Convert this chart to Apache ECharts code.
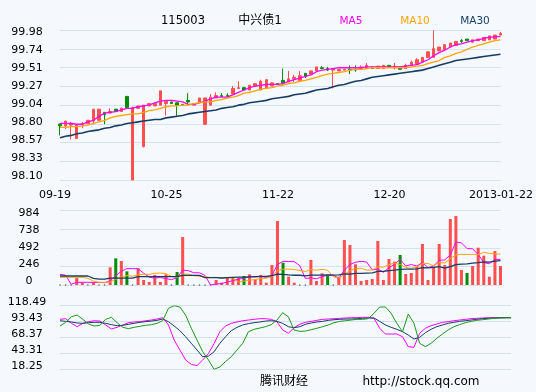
<!DOCTYPE html>
<html><head><meta charset="utf-8">
<script src="https://cdn.jsdelivr.net/npm/echarts/dist/echarts.min.js"></script>
<style>html,body{margin:0;padding:0;background:#F5F8FD}#c{width:536px;height:392px}</style>
</head><body><div id="c"></div>
<script>
// ---------- texts & tick labels ----------
const stockCode = '115003';
const stockName = '中兴债1';
const maNames = ['MA5', 'MA10', 'MA30'];
const footerTexts = ['腾讯财经', 'http://stock.qq.com'];
const dateLabels = ['09-19', '10-25', '11-22', '12-20', '2013-01-22'];
const priceTicks = ['98.10', '98.33', '98.57', '98.80', '99.04', '99.27', '99.51', '99.74', '99.98'];
const volumeTicks = ['0', '246', '492', '738', '984'];
const kdjTicks = ['18.25', '43.31', '68.37', '93.43', '118.49'];

// ---------- price data (daily) ----------
const open = [98.80,98.78,98.79,98.62,98.80,98.81,98.84,98.85,98.95,98.94,
 98.99,98.96,99.15,98.10,99.00,98.52,99.03,99.03,99.04,99.06,
 99.08,99.07,99.05,99.10,99.04,99.08,98.80,99.04,99.13,99.16,
 99.16,99.18,99.25,99.26,99.23,99.28,99.23,99.25,99.28,99.31,
 99.35,99.33,99.37,99.35,99.44,99.43,99.47,99.51,99.50,99.48,
 99.47,99.48,99.49,99.49,99.50,99.50,99.52,99.50,99.50,99.54,
 99.51,99.52,99.50,99.54,99.55,99.58,99.64,99.64,99.72,99.74,
 99.77,99.79,99.85,99.87,99.83,99.85,99.85,99.86,99.87,99.92];
const close = [98.78,98.84,98.81,98.80,98.81,98.85,98.99,98.99,98.92,98.96,
 98.96,99.00,99.01,99.01,99.03,99.04,99.06,99.06,99.22,99.09,
 99.06,99.04,99.04,99.08,99.06,99.13,99.13,99.14,99.16,99.15,
 99.15,99.25,99.26,99.23,99.29,99.31,99.34,99.36,99.32,99.30,
 99.32,99.37,99.39,99.41,99.40,99.47,99.52,99.50,99.48,99.50,
 99.49,99.49,99.48,99.48,99.52,99.54,99.50,99.53,99.54,99.52,
 99.53,99.49,99.54,99.58,99.61,99.64,99.71,99.75,99.77,99.80,
 99.82,99.84,99.84,99.85,99.86,99.87,99.89,99.91,99.92,99.94];
const low = [98.66,98.74,98.61,98.62,98.75,98.81,98.80,98.85,98.80,98.94,
 98.96,98.96,99.01,98.10,99.00,98.51,99.03,99.03,99.04,98.91,
 99.06,98.89,99.04,99.04,99.04,99.08,98.80,99.04,99.13,99.15,
 99.15,99.18,99.24,99.23,99.23,99.28,99.23,99.25,99.28,99.30,
 99.30,99.33,99.33,99.35,99.38,99.43,99.47,99.50,99.47,99.25,
 99.47,99.48,99.43,99.46,99.50,99.50,99.50,99.50,99.50,99.52,
 99.49,99.49,99.50,99.54,99.55,99.58,99.64,99.64,99.72,99.74,
 99.77,99.79,99.82,99.85,99.83,99.85,99.85,99.86,99.87,99.92];
const high = [98.81,98.84,98.83,98.80,98.83,98.85,98.99,98.99,98.95,99.00,
 98.99,99.01,99.15,99.02,99.03,99.04,99.06,99.06,99.22,99.09,
 99.08,99.07,99.05,99.19,99.06,99.13,99.13,99.18,99.20,99.19,
 99.19,99.28,99.34,99.26,99.29,99.31,99.36,99.36,99.32,99.31,
 99.50,99.47,99.42,99.47,99.44,99.47,99.52,99.53,99.52,99.50,
 99.49,99.49,99.54,99.54,99.54,99.57,99.52,99.53,99.54,99.54,
 99.57,99.52,99.56,99.60,99.63,99.64,99.71,99.98,99.77,99.80,
 99.82,99.84,99.87,99.87,99.86,99.87,99.89,99.91,99.92,99.96];
const ma5 = [98.81,98.81,98.81,98.80,98.80,98.83,98.85,98.90,98.94,98.95,
 98.96,98.98,99.00,99.00,99.02,99.03,99.04,99.07,99.09,99.10,
 99.10,99.09,99.08,99.05,99.05,99.07,99.09,99.12,99.14,99.14,
 99.14,99.17,99.20,99.23,99.26,99.28,99.29,99.30,99.30,99.30,
 99.31,99.34,99.36,99.38,99.40,99.42,99.46,99.48,99.49,99.50,
 99.51,99.51,99.51,99.51,99.51,99.52,99.52,99.52,99.52,99.52,
 99.52,99.52,99.53,99.54,99.55,99.58,99.61,99.66,99.70,99.73,
 99.77,99.80,99.81,99.83,99.85,99.86,99.88,99.89,99.90,99.90];
const ma10 = [98.76,98.76,98.77,98.77,98.78,98.79,98.81,98.83,98.85,98.88,
 98.90,98.91,98.92,98.93,98.93,98.95,98.97,98.98,99.00,99.02,
 99.03,99.03,99.04,99.04,99.06,99.07,99.08,99.08,99.10,99.11,
 99.13,99.14,99.16,99.19,99.20,99.22,99.24,99.25,99.26,99.28,
 99.29,99.31,99.32,99.34,99.35,99.37,99.39,99.41,99.43,99.44,
 99.45,99.46,99.48,99.49,99.49,99.50,99.51,99.51,99.51,99.51,
 99.51,99.51,99.51,99.52,99.53,99.54,99.56,99.58,99.60,99.64,
 99.66,99.69,99.71,99.74,99.77,99.79,99.81,99.83,99.85,99.86];
const ma30 = [98.63,98.65,98.66,98.68,98.69,98.71,98.72,98.73,98.75,98.76,
 98.78,98.79,98.81,98.82,98.83,98.84,98.85,98.86,98.86,98.88,
 98.89,98.90,98.91,98.93,98.94,98.95,98.96,98.97,98.98,99.00,
 99.01,99.02,99.04,99.05,99.07,99.08,99.09,99.10,99.12,99.13,
 99.14,99.15,99.17,99.18,99.19,99.21,99.23,99.24,99.25,99.27,
 99.29,99.30,99.32,99.34,99.35,99.37,99.39,99.40,99.41,99.42,
 99.43,99.44,99.45,99.46,99.47,99.48,99.50,99.52,99.54,99.56,
 99.58,99.60,99.61,99.62,99.63,99.64,99.65,99.66,99.67,99.68];

// ---------- volume ----------
const volume = [0,0,0,97,36,0,36,0,0,234,
 353,318,181,0,221,66,40,132,40,141,
 0,172,636,0,0,0,0,0,66,31,
 97,97,97,119,141,75,132,31,265,847,
 295,110,31,0,0,331,53,155,123,0,
 110,596,530,274,53,66,79,583,66,344,
 309,397,146,159,243,543,66,243,543,265,
 874,914,199,159,252,494,388,110,450,252];
const volumeDownDays = [10, 12, 21, 33, 40, 48, 61, 73];
const vma5 = [141,130,10,36,36,36,34,34,30,54,
 125,181,217,217,215,157,102,92,100,84,
 71,97,198,190,162,162,127,0,13,19,
 39,58,78,88,110,106,113,100,129,270,
 314,310,310,257,87,94,83,108,132,132,
 88,197,272,302,313,304,200,211,169,228,
 276,340,252,271,251,298,231,251,328,332,
 398,568,559,482,480,404,298,281,339,339];
const vma10 = [102,102,102,102,102,88,50,36,36,40,
 76,107,126,116,134,141,141,155,159,149,
 114,99,145,145,123,116,112,99,102,91,
 100,93,39,51,65,72,86,89,109,190,
 210,211,205,193,179,204,196,209,195,110,
 91,140,190,217,223,196,199,241,236,270,
 290,270,232,220,239,287,286,252,299,291,
 348,400,405,405,406,401,433,420,411,409];
const vma30 = [119,119,119,119,119,119,88,79,79,90,
 90,90,90,90,110,110,110,110,110,110,
 110,110,128,128,128,128,97,97,97,93,
 97,100,103,104,107,110,113,114,123,143,
 141,134,129,129,122,131,131,132,135,130,
 134,148,144,154,155,158,160,180,180,190,
 197,207,209,210,213,229,227,234,243,224,
 243,270,276,281,289,295,306,304,315,324];

// ---------- KDJ ----------
const kLine = [97.0,98.0,90.7,85.4,90.7,93.3,94.8,94.3,88.1,81.8,
 84.4,88.1,91.7,92.8,93.3,94.8,95.9,97.5,99.6,88.1,
 64.4,48.7,33.0,26.0,24.0,33.0,43.0,59.0,77.5,86.5,
 90.7,92.8,94.8,95.9,97.0,98.0,98.0,97.0,93.3,80.2,
 75.0,83.8,89.2,92.3,93.8,95.4,97.0,97.5,98.0,98.6,
 99.1,99.6,99.6,100.2,100.2,98.6,82.9,73.9,73.9,73.9,
 69.6,53.9,52.9,75.0,82.9,87.0,89.6,92.3,93.3,94.8,
 95.9,97.0,98.0,98.6,99.1,99.6,99.6,99.6,99.6,99.6];
const dLine = [94.8,93.8,92.8,91.2,90.7,91.7,92.3,92.3,90.7,88.6,
 87.0,87.6,89.2,90.7,92.3,93.3,94.3,95.4,97.5,93.3,
 86.5,79.1,69.6,59.2,48.7,38.0,39.0,46.0,59.2,69.6,
 79.1,84.4,88.1,90.2,91.7,92.8,94.3,94.8,93.8,90.7,
 85.4,83.8,85.4,89.2,91.2,92.8,93.8,95.4,96.4,97.0,
 97.5,97.5,98.0,98.6,99.1,99.1,93.8,88.1,84.4,81.3,
 77.5,72.3,66.0,68.6,76.0,81.3,85.4,88.1,90.7,92.3,
 93.8,94.8,95.9,97.0,98.0,98.6,99.1,99.4,99.6,99.6];
const jLine = [86.5,92.3,101.1,103.8,97.0,89.6,86.5,87.6,97.0,100.2,
 91.7,84.4,82.4,84.4,86.0,87.6,88.6,90.7,95.0,114.4,
 118.49,116.4,103.8,82.9,64.4,46.0,33.0,18.25,22.0,30.5,
 38.0,48.7,59.0,77.5,81.3,83.3,85.4,88.6,95.9,107.5,
 101.1,80.2,78.0,78.6,80.7,82.9,85.4,88.1,91.7,93.8,
 94.8,95.9,97.0,97.0,98.0,106.5,116.4,116.4,106.5,90.7,
 77.5,105.4,90.7,59.2,53.9,59.2,67.1,73.9,80.2,85.4,
 88.6,91.7,93.8,95.4,96.4,97.5,98.6,99.1,99.4,99.6];

// ---------- styling ----------
const RED = '#FF4F4F', GREEN = '#008E00';
const C5 = '#FF00FF', C10 = '#FFA500', C30 = '#173D66', CJ = '#1A9A1A';
const GRIDC = '#D5E2F0';
const FONT = '"DejaVu Sans", "Noto Sans CJK SC", sans-serif';

const days = open.map((_, i) => i);
const candles = open.map((o, i) => [o, close[i], low[i], high[i]]);
const volBars = volume.map((v, i) => ({ value: v, itemStyle: { color: volumeDownDays.includes(i) ? GREEN : RED } }));
const zeroVol = volume.map(v => (v === 0 ? 0 : '-'));

const hiddenY = (g, min, max) => ({ gridIndex: g, type: 'value', min, max, show: false });
const gridY = (g, max) => ({ gridIndex: g, type: 'value', min: 0, max, interval: 1, axisLine: { show: false }, axisTick: { show: false }, axisLabel: { show: false }, splitLine: { show: true, lineStyle: { color: GRIDC, width: 1 } } });
const labelY = (g, ticks, margin) => ({ gridIndex: g, type: 'value', min: 0, max: ticks.length - 1, interval: 1, axisLine: { show: false }, axisTick: { show: false }, splitLine: { show: false }, axisLabel: { formatter: v => ticks[v] || '', align: 'center', margin, color: '#000', fontSize: 11, fontFamily: FONT, showMinLabel: true, showMaxLabel: true } });
const catX = g => ({ gridIndex: g, type: 'category', data: days, boundaryGap: false, show: false });
const hiddenX = g => ({ gridIndex: g, type: 'value', min: 0, max: 1, show: false });
const line = (name, data, color, xi, yi, w) => ({ name, type: 'line', data, xAxisIndex: xi, yAxisIndex: yi, symbol: 'none', silent: true, lineStyle: { color, width: w }, z: 5 });
const txt = (text, x, y, color, size) => ({ type: 'text', x, y, style: { text, fill: color, fontSize: size, fontFamily: FONT, align: 'center', verticalAlign: 'middle' } });

const chart = echarts.init(document.getElementById('c'), null, { renderer: 'canvas' });
chart.setOption({
  animation: false,
  backgroundColor: '#F5F8FD',
  grid: [
    { left: 60, top: 30.3, width: 440.5, height: 149.7 },
    { left: 60, top: 210.7, width: 440.5, height: 74.3 },
    { left: 60, top: 305.7, width: 451, height: 63.6 },
    { left: 59, top: 32.3, width: 1, height: 143.7 },
    { left: 59, top: 213.3, width: 1, height: 67.9 },
    { left: 59, top: 301.7, width: 1, height: 64.3 },
    { left: 55, top: 184, width: 446, height: 1 }
  ],
  xAxis: [
    catX(0), catX(1), catX(2), hiddenX(3), hiddenX(4), hiddenX(5),
    { gridIndex: 6, type: 'value', min: 0, max: dateLabels.length - 1, interval: 1, axisLine: { show: false }, axisTick: { show: false }, splitLine: { show: false },
      axisLabel: { formatter: v => dateLabels[v] || '', margin: 5, color: '#000', fontSize: 11, fontFamily: FONT, lineHeight: 11, showMinLabel: true, showMaxLabel: true } }
  ],
  yAxis: [
    hiddenY(0, 98.10, 99.98),
    gridY(0, 8),
    { gridIndex: 1, type: 'value', min: 0, max: 984, interval: 246, axisLine: { show: false }, axisTick: { show: false }, axisLabel: { show: false }, splitLine: { show: true, lineStyle: { color: GRIDC, width: 1 } } },
    hiddenY(2, 18.25, 118.49),
    gridY(2, 4),
    labelY(3, priceTicks, 32),
    labelY(4, volumeTicks, 30),
    labelY(5, kdjTicks, 32),
    hiddenY(6, 0, 1)
  ],
  series: [
    { type: 'candlestick', data: candles, xAxisIndex: 0, yAxisIndex: 0, barWidth: 3, clip: false, silent: true, z: 3,
      itemStyle: { color: RED, color0: GREEN, borderColor: RED, borderColor0: GREEN, borderColorDoji: RED, borderWidth: 1 } },
    line('MA5', ma5, C5, 0, 0, 1.3),
    line('MA10', ma10, C10, 0, 0, 1.3),
    line('MA30', ma30, C30, 0, 0, 1.6),
    { type: 'bar', data: volBars, xAxisIndex: 1, yAxisIndex: 2, barWidth: 3, silent: true, z: 3 },
    { type: 'scatter', data: zeroVol, xAxisIndex: 1, yAxisIndex: 2, symbolSize: 1.5, silent: true, itemStyle: { color: '#333' }, z: 3 },
    line('VMA5', vma5, C5, 1, 2, 1),
    line('VMA10', vma10, C10, 1, 2, 1),
    line('VMA30', vma30, C30, 1, 2, 1.3),
    line('K', kLine, C5, 2, 3, 1),
    line('D', dLine, C30, 2, 3, 1),
    line('J', jLine, CJ, 2, 3, 1)
  ],
  graphic: [
    txt(stockCode, 183, 21, '#000', 11.5),
    txt(stockName, 260, 21, '#000', 12),
    txt(maNames[0], 351, 21, C5, 10.5),
    txt(maNames[1], 415, 21, C10, 10.5),
    txt(maNames[2], 475, 21, C30, 10.5),
    txt(footerTexts[0], 284, 382, '#000', 12),
    txt(footerTexts[1], 421, 382, '#000', 12)
  ]
});
</script>
</body></html>
